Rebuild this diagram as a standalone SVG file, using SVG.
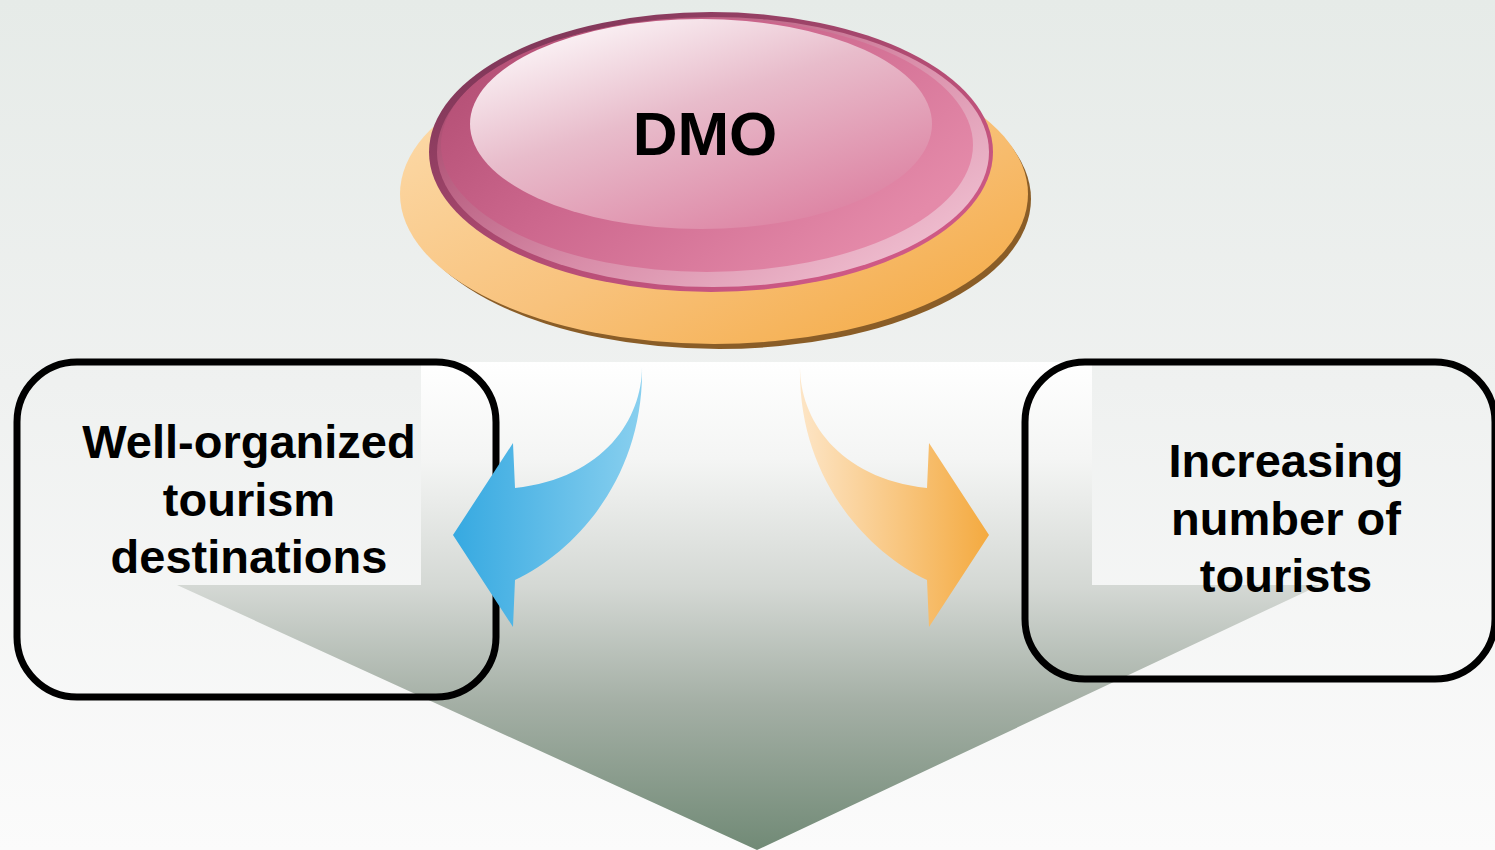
<svg xmlns="http://www.w3.org/2000/svg" width="1495" height="850" viewBox="0 0 1495 850">
  <defs>
    <linearGradient id="bg" x1="0" y1="0" x2="0" y2="1">
      <stop offset="0" stop-color="#e6ebe8"/>
      <stop offset="0.45" stop-color="#eff1f0"/>
      <stop offset="1" stop-color="#fbfbfb"/>
    </linearGradient>
    <linearGradient id="downGrad" gradientUnits="userSpaceOnUse" x1="0" y1="362" x2="0" y2="850">
      <stop offset="0" stop-color="#ffffff"/>
      <stop offset="0.2" stop-color="#f4f5f4"/>
      <stop offset="0.46" stop-color="#d4d8d4"/>
      <stop offset="0.7" stop-color="#a4afa5"/>
      <stop offset="1" stop-color="#718a76"/>
    </linearGradient>
    <linearGradient id="orangeBase" x1="0" y1="0" x2="1" y2="1">
      <stop offset="0" stop-color="#fde0b4"/>
      <stop offset="0.55" stop-color="#f8c27c"/>
      <stop offset="1" stop-color="#f4a83f"/>
    </linearGradient>
    <linearGradient id="pinkRim" x1="0" y1="0" x2="1" y2="1">
      <stop offset="0" stop-color="#6f3050"/>
      <stop offset="0.5" stop-color="#b04b72"/>
      <stop offset="1" stop-color="#dc5f8e"/>
    </linearGradient>
    <linearGradient id="pinkBand" x1="0" y1="0.3" x2="0.9" y2="1">
      <stop offset="0" stop-color="#a8486d"/>
      <stop offset="0.5" stop-color="#d88ca8"/>
      <stop offset="1" stop-color="#f3c6d6"/>
    </linearGradient>
    <linearGradient id="pinkBody" x1="0" y1="0" x2="1" y2="0.6">
      <stop offset="0" stop-color="#ac476d"/>
      <stop offset="0.5" stop-color="#cd688e"/>
      <stop offset="1" stop-color="#e48aa9"/>
    </linearGradient>
    <linearGradient id="pinkHi" x1="0.1" y1="0" x2="0.8" y2="1">
      <stop offset="0" stop-color="#ffffff"/>
      <stop offset="0.45" stop-color="#e8bccb"/>
      <stop offset="1" stop-color="#dc7fa0"/>
    </linearGradient>
    <linearGradient id="blueGrad" gradientUnits="userSpaceOnUse" x1="453" y1="0" x2="645" y2="0">
      <stop offset="0" stop-color="#36a9e1"/>
      <stop offset="1" stop-color="#8ad0ef"/>
    </linearGradient>
    <linearGradient id="orangeGrad" gradientUnits="userSpaceOnUse" x1="797" y1="0" x2="989" y2="0">
      <stop offset="0" stop-color="#fde6c8"/>
      <stop offset="1" stop-color="#f4aa40"/>
    </linearGradient>
    <style>
      .box { fill: none; stroke: #000000; stroke-width: 7; }
      .lbl { font-family: "Liberation Sans", Arial, sans-serif; font-weight: bold; font-size: 47px; fill: #000000; text-anchor: middle; }
      .dmo { font-family: "Liberation Sans", Arial, sans-serif; font-weight: bold; font-size: 62px; fill: #000000; text-anchor: middle; }
    </style>
  </defs>

  <rect x="0" y="0" width="1495" height="850" fill="url(#bg)"/>

  <g id="down-arrow">
    <path d="M421,362 L1092,362 L1092,585 L1320,585 L757,850 L177,585 L421,585 Z" fill="url(#downGrad)"/>
  </g>

  <g id="node-dmo">
    <ellipse cx="719" cy="199" rx="312" ry="150" fill="#8a5d27"/>
    <ellipse cx="714" cy="194" rx="314" ry="150" fill="url(#orangeBase)"/>
    <ellipse cx="711" cy="152" rx="282" ry="140" fill="url(#pinkRim)"/>
    <ellipse cx="713" cy="152" rx="276" ry="135" fill="url(#pinkBand)"/>
    <ellipse cx="707" cy="145" rx="266" ry="127" fill="url(#pinkBody)"/>
    <ellipse cx="701" cy="124" rx="231" ry="105" fill="url(#pinkHi)"/>
    <text class="dmo" x="705" y="155">DMO</text>
  </g>

  <g id="node-left">
    <rect class="box" x="17" y="362" width="479" height="335" rx="60" ry="60"/>
    <text class="lbl" x="249" y="458">Well-organized</text>
    <text class="lbl" x="249" y="516">tourism</text>
    <text class="lbl" x="249" y="573">destinations</text>
  </g>

  <g id="node-right">
    <rect class="box" x="1025" y="362" width="470" height="317" rx="60" ry="60"/>
    <text class="lbl" x="1286" y="477">Increasing</text>
    <text class="lbl" x="1286" y="535">number of</text>
    <text class="lbl" x="1286" y="592">tourists</text>
  </g>

  <g id="connectors">
    <path d="M642,367 C642,418 605,478 515,488 L513,443 L453,535 L513,627 L515,580 C578,550 644,475 642,367 Z" fill="url(#blueGrad)"/>
    <path d="M800,367 C800,418 837,478 927,488 L929,443 L989,535 L929,627 L927,580 C864,550 798,475 800,367 Z" fill="url(#orangeGrad)"/>
  </g>
</svg>
